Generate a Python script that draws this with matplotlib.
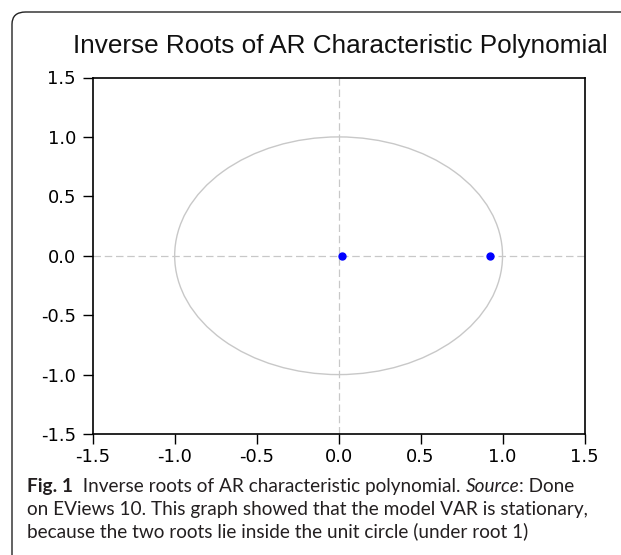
import numpy as np
import matplotlib.pyplot as plt
from matplotlib.patches import Circle, FancyBboxPatch

root_re = [0.02, 0.925]
root_im = [0.0, 0.0]

ticks = [-1.5, -1.0, -0.5, 0.0, 0.5, 1.0, 1.5]
tick_labels = ["-1.5", "-1.0", "-0.5", "0.0", "0.5", "1.0", "1.5"]

title = "Inverse Roots of AR Characteristic Polynomial"
caption = [
    [("Fig. 1", "bold", "normal"),
     ("  Inverse roots of AR characteristic polynomial. ", "normal", "normal"),
     ("Source", "normal", "italic"),
     (": Done", "normal", "normal")],
    [("on EViews 10. This graph showed that the model VAR is stationary,", "normal", "normal")],
    [("because the two roots lie inside the unit circle (under root 1)", "normal", "normal")],
]

W, H = 621, 555
fig = plt.figure(figsize=(W / 100, H / 100), dpi=100)

# outer frame, cut off on the right and bottom like the source image
frame = FancyBboxPatch((12 / W, -0.05), 1.2, 1 - 12 / H + 0.05,
                       boxstyle="round,pad=0,rounding_size=0.022",
                       transform=fig.transFigure, fill=False,
                       edgecolor="#222222", linewidth=1.0)
fig.add_artist(frame)

ax = fig.add_axes([92.7 / W, 1 - 434 / H, (584.5 - 92.7) / W, (434 - 77.5) / H])

ax.axhline(0, color="#c8c8c8", linewidth=0.9, linestyle=(0, (6, 3)), zorder=1)
ax.axvline(0, color="#c8c8c8", linewidth=0.9, linestyle=(0, (6, 3)), zorder=1)
ax.add_patch(Circle((0, 0), 1.0, fill=False, edgecolor="#c8c8c8", linewidth=1.0, zorder=2))
ax.plot(root_re, root_im, "o", color="#0000ff", markersize=5, zorder=3)

ax.set_xlim(-1.5, 1.5)
ax.set_ylim(-1.5, 1.5)
ax.set_xticks(ticks)
ax.set_xticklabels(tick_labels)
ax.set_yticks(ticks)
ax.set_yticklabels(tick_labels)
ax.tick_params(direction="out", length=7, width=1.0, labelsize=13, colors="black")
ax.tick_params(axis="x", pad=3)
ax.tick_params(axis="y", pad=5)
for s in ax.spines.values():
    s.set_linewidth(1.2)
    s.set_color("black")
for lab in ax.get_xticklabels() + ax.get_yticklabels():
    lab.set_family("DejaVu Sans")

fig.text(340 / W, 1 - 46 / H, title, ha="center", va="center",
         fontsize=18.8, family="Liberation Sans", color="#111111")

# caption, built piece by piece so bold / italic can sit on one line
baselines = [492, 515, 537.5]
fig.canvas.draw()
r = fig.canvas.get_renderer()
for line, yb in zip(caption, baselines):
    x0 = 27
    for txt, weight, style in line:
        t = fig.text(x0 / W, 1 - yb / H, txt, ha="left", va="baseline",
                     fontsize=13.7, family="Lato", weight=weight, style=style,
                     color="#231f20")
        x0 = t.get_window_extent(r).x1

fig.savefig("out.png", dpi=100)
